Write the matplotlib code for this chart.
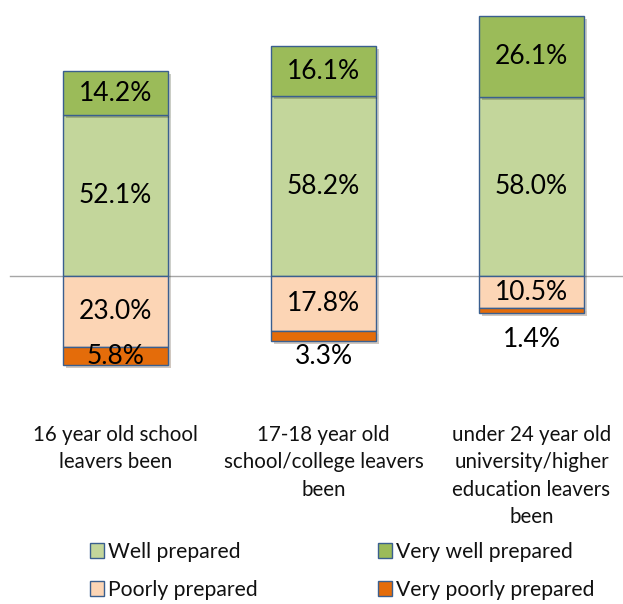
import matplotlib.pyplot as plt
import matplotlib.patheffects as pe
from matplotlib.patches import Patch

plt.rcParams['font.family'] = ['Lato', 'DejaVu Sans']

categories = ['16 year old school\nleavers been',
              '17-18 year old\nschool/college leavers\nbeen',
              'under 24 year old\nuniversity/higher\neducation leavers\nbeen']
well = [52.1, 58.2, 58.0]
very_well = [14.2, 16.1, 26.1]
poorly = [23.0, 17.8, 10.5]
very_poorly = [5.8, 3.3, 1.4]

c_well = '#c3d69b'
c_vwell = '#9bbb59'
c_poor = '#fcd5b5'
c_vpoor = '#e46c0a'
edge = '#3a5f8f'

fig = plt.figure(figsize=(6.23, 6.04), dpi=100)
ax = fig.add_axes([0, 0, 1, 1])

# pixel mapping: bar centres at 115.5, 323.5, 532 px, baseline at 276 px, 3.09 px per %
px_per_x = 208.0
x0 = 115.5
ax.set_xlim(-x0 / px_per_x, (623 - x0) / px_per_x)
scale = 3.09
ax.set_ylim(-(604 - 276) / scale, 276 / scale)
ax.axis('off')

x = range(len(categories))
w = 105 / px_per_x
shadow = [pe.SimplePatchShadow(offset=(2, -2), alpha=0.25), pe.Normal()]
kw = dict(width=w, edgecolor=edge, linewidth=1.0, zorder=3)

ax.axhline(0, xmin=10 / 623, xmax=1, color='#a6a6a6', linewidth=1.0, zorder=1)

b1 = ax.bar(x, well, color=c_well, **kw)
b2 = ax.bar(x, very_well, bottom=well, color=c_vwell, **kw)
b3 = ax.bar(x, [-v for v in poorly], color=c_poor, **kw)
b4 = ax.bar(x, [-v for v in very_poorly], bottom=[-v for v in poorly], color=c_vpoor, **kw)
for bars in (b1, b2, b3, b4):
    for p in bars:
        p.set_path_effects(shadow)

fs = 19
for i in x:
    ax.text(i, well[i] / 2, f'{well[i]:.1f}%', ha='center', va='center', fontsize=fs, zorder=5)
    ax.text(i, well[i] + very_well[i] / 2, f'{very_well[i]:.1f}%', ha='center', va='center', fontsize=fs, zorder=5)
    ax.text(i, -poorly[i] / 2, f'{poorly[i]:.1f}%', ha='center', va='center', fontsize=fs, zorder=5)

# very poorly labels: first centred on segment, others dropped below bar
ax.text(0, -poorly[0] - very_poorly[0] / 2, f'{very_poorly[0]:.1f}%', ha='center', va='center', fontsize=fs, zorder=5)
ax.annotate(f'{very_poorly[1]:.1f}%', (1, -poorly[1] - very_poorly[1]), xytext=(0, -11),
            textcoords='offset points', ha='center', va='center', fontsize=fs, zorder=5)
ax.annotate(f'{very_poorly[2]:.1f}%', (2, -poorly[2] - very_poorly[2]), xytext=(0, -19),
            textcoords='offset points', ha='center', va='center', fontsize=fs, zorder=5)

for i, lab in enumerate(categories):
    fig.text((x0 + i * px_per_x) / 623, 1 - 425 / 604, lab, ha='center', va='top',
             fontsize=14.8, linespacing=1.46, color='#111111')

handles = [Patch(facecolor=c_well, edgecolor=edge, label='Well prepared'),
           Patch(facecolor=c_poor, edgecolor=edge, label='Poorly prepared'),
           Patch(facecolor=c_vwell, edgecolor=edge, label='Very well prepared'),
           Patch(facecolor=c_vpoor, edgecolor=edge, label='Very poorly prepared')]
fig.legend(handles=handles, ncol=2, loc='upper left', bbox_to_anchor=(90 / 623, 1 - 542 / 604),
           frameon=False, fontsize=15.2, handlelength=0.66, handleheight=0.66, handletextpad=0.2,
           columnspacing=5.7, labelspacing=0.85, borderpad=0, borderaxespad=0,
           labelcolor='#111111')

fig.savefig('out.png', dpi=100)
